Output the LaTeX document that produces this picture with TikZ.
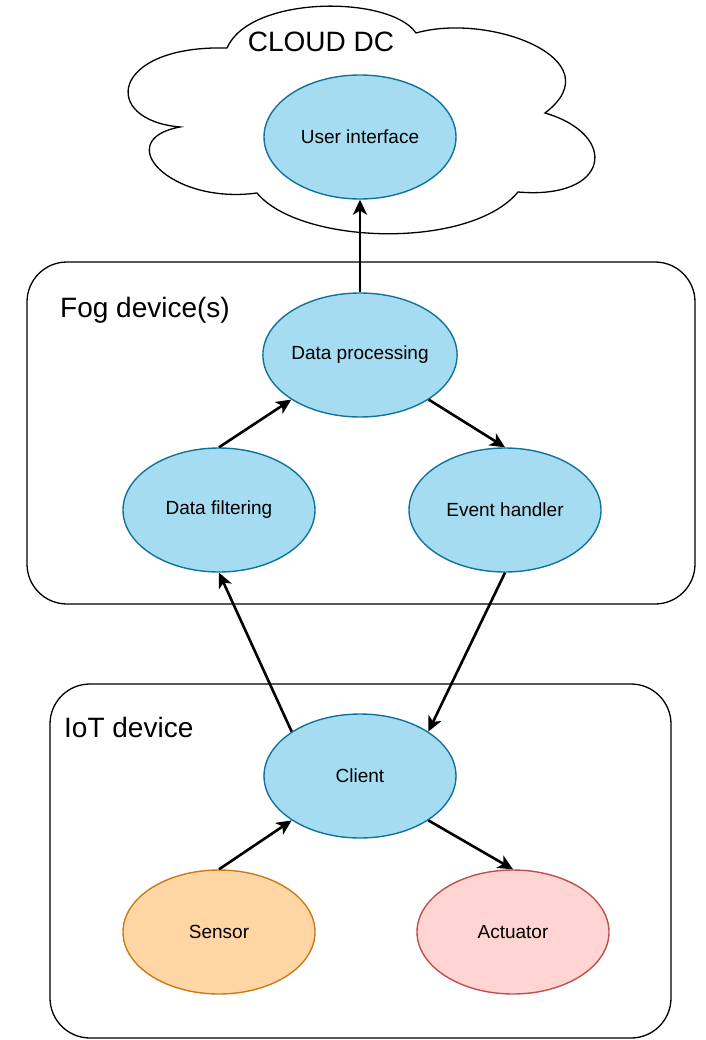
\documentclass[tikz,border=0pt]{standalone}
\usepackage{fontspec}
\setmainfont{Liberation Sans}
\usetikzlibrary{shapes.geometric,arrows.meta}

\definecolor{blueFill}{HTML}{A6DCF1}
\definecolor{blueLine}{HTML}{10739E}
\definecolor{orangeFill}{HTML}{FFD6A4}
\definecolor{orangeLine}{HTML}{CC7A14}
\definecolor{redFill}{HTML}{FFD4D2}
\definecolor{redLine}{HTML}{C0504D}

\tikzset{
  proc/.style={ellipse, draw=blueLine, fill=blueFill, line width=1.4pt,
    minimum width=192pt, minimum height=124pt, inner sep=0pt,
    font=\fontsize{19}{22}\selectfont},
  sensorbox/.style={proc, draw=orangeLine, fill=orangeFill},
  actbox/.style={proc, draw=redLine, fill=redFill},
  group/.style={draw=black, line width=1.3pt, rounded corners=40pt},
  grouplabel/.style={anchor=base west, inner sep=0pt,
    font=\fontsize{28}{32}\selectfont},
  flow/.style={line width=2.6pt, -{Stealth[length=15pt,width=14pt,inset=4pt]}}
}

\begin{document}
\begin{tikzpicture}[x=1pt, y=-1pt]
  \useasboundingbox (0,0) rectangle (705,1040);

  % cloud data centre outline
  \draw[line width=1.3pt, fill=white]
    (227,48) .. controls (250,-5) and (390,-5) .. (416,33)
             .. controls (490,12) and (615,60) .. (545,113)
             .. controls (620,135) and (610,200) .. (518,192)
             .. controls (470,250) and (300,245) .. (257,193)
             .. controls (170,205) and (110,140) .. (180,127)
             .. controls (100,120) and (110,45) .. (227,48) -- cycle;
  \node[anchor=base, inner sep=0pt, font=\fontsize{28}{32}\selectfont]
    (cloudlbl) at (321,52) {CLOUD DC};

  % fog and IoT tiers
  \draw[group] (27,262) rectangle (695,604);
  \node[grouplabel] (foglbl) at (60,317) {Fog device(s)};
  \draw[group] (50,684) rectangle (671,1038);
  \node[grouplabel] (iotlbl) at (64,737) {IoT device};

  % components
  \node[proc] (ui) at (360,137) {User interface};
  \node[proc] (dp) at (360,355) {Data processing};
  \node[proc] (df) at (219,510) {Data filtering};
  \node[proc] (eh) at (505,510) {Event handler};
  \node[proc] (cl) at (360,776) {Client};
  \node[sensorbox] (se) at (219,932) {Sensor};
  \node[actbox] (ac) at (513,932) {Actuator};

  % data flow
  \draw[flow] (dp.north) -- (ui.south);
  \draw[flow] (df.north) -- (dp.213);
  \draw[flow] (dp.327) -- (eh.north);
  \draw[flow] (cl.147) -- (df.south);
  \draw[flow] (eh.south) -- (cl.33);
  \draw[flow] (se.north) -- (cl.213);
  \draw[flow] (cl.327) -- (ac.north);
\end{tikzpicture}
\end{document}
